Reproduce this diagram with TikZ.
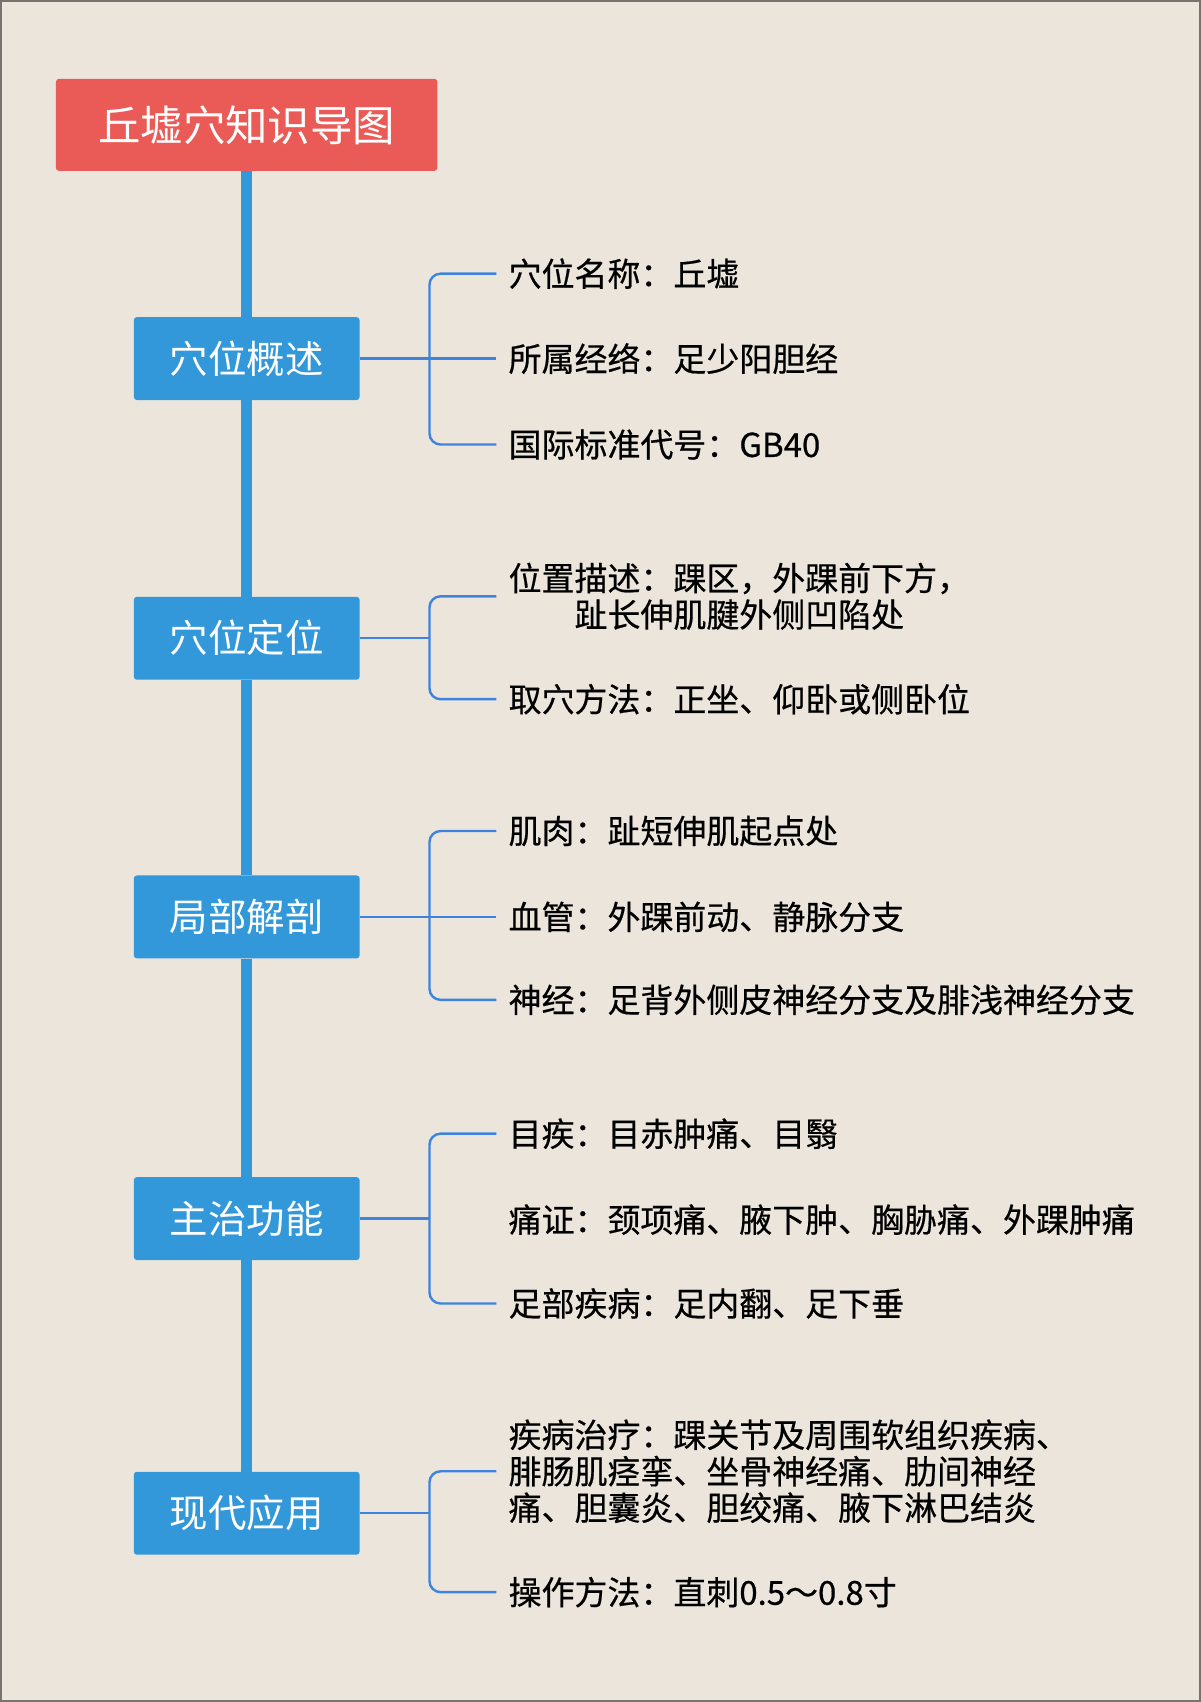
\documentclass[tikz,border=0pt]{standalone}
\usepackage{fontspec}
\setmainfont{Noto Sans CJK SC}
\newfontfamily\leaffont[FakeBold=0.5]{Noto Sans CJK SC}
\definecolor{bgc}{RGB}{235,229,220}
\definecolor{titlered}{RGB}{234,90,86}
\definecolor{catblue}{RGB}{50,152,217}
\definecolor{brblue}{RGB}{62,132,222}
\definecolor{frame}{RGB}{120,115,110}
\begin{document}
\begin{tikzpicture}[x=1pt,y=-1pt,
  titlebox/.style={fill=titlered,rounded corners=3pt,text=white,minimum width=382pt,minimum height=92pt,inner sep=0pt,font=\fontsize{42.5}{46}\selectfont},
  catbox/.style={fill=catblue,rounded corners=3pt,text=white,minimum width=226pt,minimum height=83pt,inner sep=0pt,font=\fontsize{38.5}{42}\selectfont},
  leaf/.style={anchor=west,inner sep=0pt,text=black,font=\leaffont\fontsize{33}{36.5}\selectfont},
  trunk/.style={draw=catblue,line width=11pt},
  br/.style={draw=brblue,line width=2.4pt,rounded corners=11pt}
]
\path[fill=bgc,draw=frame,line width=2pt] (0,0) rectangle (1200,1702);
\useasboundingbox (0,0) rectangle (1200,1702);

\node[titlebox] (t) at (246,124) {丘墟穴知识导图};
\node[catbox] (c1) at (246,358) {穴位概述};
\node[catbox] (c2) at (246,638) {穴位定位};
\node[catbox] (c3) at (246,917) {局部解剖};
\node[catbox] (c4) at (246,1219) {主治功能};
\node[catbox] (c5) at (246,1514) {现代应用};

\draw[trunk] (t.south) -- (c1.north);
\draw[trunk] (c1.south) -- (c2.north);
\draw[trunk] (c2.south) -- (c3.north);
\draw[trunk] (c3.south) -- (c4.north);
\draw[trunk] (c4.south) -- (c5.north);

% leaves
\node[leaf] (a1) at (508,273) {穴位名称：丘墟};
\node[leaf] (a2) at (508,358) {所属经络：足少阳胆经};
\node[leaf] (a3) at (508,444) {国际标准代号：GB40};

\node[leaf,align=center] (b1) at (508,596) {位置描述：踝区，外踝前下方，\\趾长伸肌腱外侧凹陷处};
\node[leaf] (b2) at (508,699) {取穴方法：正坐、仰卧或侧卧位};

\node[leaf] (d1) at (508,831) {肌肉：趾短伸肌起点处};
\node[leaf] (d2) at (508,917) {血管：外踝前动、静脉分支};
\node[leaf] (d3) at (508,1000) {神经：足背外侧皮神经分支及腓浅神经分支};

\node[leaf] (e1) at (508,1134) {目疾：目赤肿痛、目翳};
\node[leaf] (e2) at (508,1220) {痛证：颈项痛、腋下肿、胸胁痛、外踝肿痛};
\node[leaf] (e3) at (508,1304) {足部疾病：足内翻、足下垂};

\node[leaf,align=left] (f1) at (508,1472) {疾病治疗：踝关节及周围软组织疾病、\\腓肠肌痉挛、坐骨神经痛、肋间神经\\痛、胆囊炎、胆绞痛、腋下淋巴结炎};
\node[leaf] (f2) at (508,1593) {操作方法：直刺0.5～0.8寸};

\coordinate (j1) at (429,358);
\coordinate (j2) at (429,638);
\coordinate (j3) at (429,917);
\coordinate (j4) at (429,1219);
\coordinate (j5) at (429,1514);

% group 1
\draw[br] (c1.east) -- ([xshift=-12pt]a2.west);
\draw[br] ([xshift=-12pt]a1.west) -| (j1) |- ([xshift=-12pt]a3.west);
% group 2
\draw[br] (c2.east) -- (j2);
\draw[br] ([xshift=-12pt]b1.west) -| (j2) |- ([xshift=-12pt]b2.west);
% group 3
\draw[br] (c3.east) -- ([xshift=-12pt]d2.west);
\draw[br] ([xshift=-12pt]d1.west) -| (j3) |- ([xshift=-12pt]d3.west);
% group 4
\draw[br] (c4.east) -- (j4);
\draw[br] ([xshift=-12pt]e1.west) -| (j4) |- ([xshift=-12pt]e3.west);
% group 5
\draw[br] (c5.east) -- (j5);
\draw[br] ([xshift=-12pt]f1.west) -| (j5) |- ([xshift=-12pt]f2.west);
\end{tikzpicture}
\end{document}
